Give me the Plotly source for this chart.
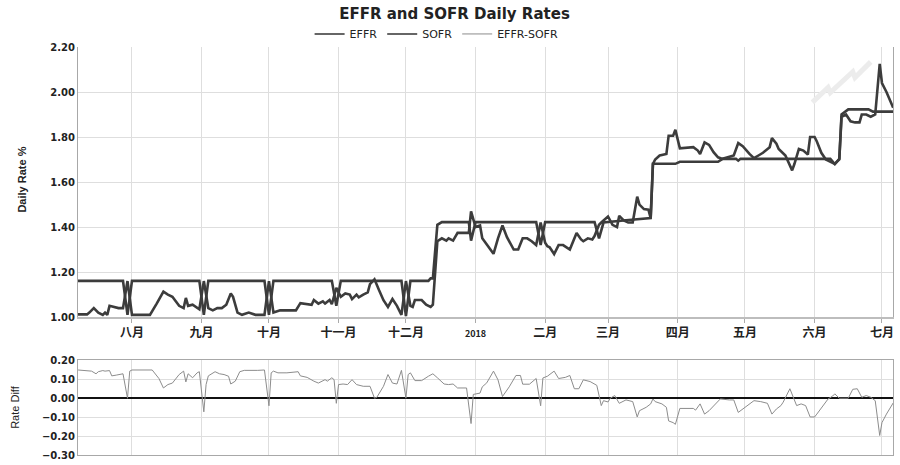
import plotly.graph_objects as go
from plotly.subplots import make_subplots

# EFFR (flat policy-like line)
effr_dates = [
    "2017-07-07", "2017-07-28", "2017-07-30", "2017-08-01", "2017-08-31", "2017-09-02",
    "2017-09-04", "2017-09-29", "2017-10-01", "2017-10-03", "2017-10-29", "2017-10-31",
    "2017-11-02", "2017-11-29", "2017-12-01", "2017-12-03", "2017-12-11", "2017-12-12",
    "2017-12-13", "2017-12-15", "2017-12-17", "2017-12-29", "2017-12-30", "2018-01-01",
    "2018-01-28", "2018-01-30", "2018-02-01", "2018-02-23", "2018-02-25", "2018-02-27",
    "2018-03-09", "2018-03-19", "2018-03-20", "2018-03-21", "2018-03-31", "2018-04-02",
    "2018-04-19", "2018-04-21", "2018-04-27", "2018-04-28", "2018-04-29", "2018-06-08",
    "2018-06-10", "2018-06-12", "2018-06-13", "2018-06-16", "2018-06-25", "2018-06-27",
    "2018-07-06",
]
effr_vals = [
    1.161, 1.161, 1.01, 1.161, 1.161, 1.01,
    1.161, 1.161, 1.01, 1.161, 1.161, 1.05,
    1.161, 1.161, 1.005, 1.161, 1.161, 1.172,
    1.172, 1.41, 1.422, 1.422, 1.34, 1.422,
    1.422, 1.32, 1.422, 1.422, 1.35, 1.42,
    1.43, 1.44, 1.44, 1.681, 1.681, 1.69,
    1.69, 1.703, 1.703, 1.695, 1.703, 1.703,
    1.68, 1.703, 1.90, 1.923, 1.923, 1.913,
    1.913,
]

# SOFR
sofr_dates = [
    "2017-07-07", "2017-07-12", "2017-07-13", "2017-07-15", "2017-07-17", "2017-07-19",
    "2017-07-20", "2017-07-21", "2017-07-22", "2017-07-24", "2017-07-26", "2017-07-28",
    "2017-07-30", "2017-08-01", "2017-08-09", "2017-08-12", "2017-08-15", "2017-08-17",
    "2017-08-19", "2017-08-22", "2017-08-24", "2017-08-25", "2017-08-26", "2017-08-28",
    "2017-08-30", "2017-08-31", "2017-09-02", "2017-09-04", "2017-09-06", "2017-09-08",
    "2017-09-10", "2017-09-12", "2017-09-14", "2017-09-15", "2017-09-17", "2017-09-19",
    "2017-09-22", "2017-09-25", "2017-09-29", "2017-10-01", "2017-10-03", "2017-10-06",
    "2017-10-13", "2017-10-15", "2017-10-20", "2017-10-21", "2017-10-23", "2017-10-25",
    "2017-10-26", "2017-10-28", "2017-10-29", "2017-10-31", "2017-11-02", "2017-11-04",
    "2017-11-06", "2017-11-07", "2017-11-09", "2017-11-10", "2017-11-12", "2017-11-14",
    "2017-11-15", "2017-11-17", "2017-11-19", "2017-11-21", "2017-11-23", "2017-11-25",
    "2017-11-27", "2017-11-29", "2017-12-01", "2017-12-03", "2017-12-04", "2017-12-05",
    "2017-12-08", "2017-12-10", "2017-12-12", "2017-12-13", "2017-12-15", "2017-12-17",
    "2017-12-19", "2017-12-20", "2017-12-22", "2017-12-24", "2017-12-29", "2017-12-30",
    "2018-01-01", "2018-01-03", "2018-01-04", "2018-01-06", "2018-01-09", "2018-01-11",
    "2018-01-13", "2018-01-15", "2018-01-18", "2018-01-20", "2018-01-22", "2018-01-24",
    "2018-01-26", "2018-01-28", "2018-01-30", "2018-02-01", "2018-02-02", "2018-02-03",
    "2018-02-05", "2018-02-07", "2018-02-09", "2018-02-12", "2018-02-15", "2018-02-17",
    "2018-02-18", "2018-02-20", "2018-02-22", "2018-02-23", "2018-02-25", "2018-02-26",
    "2018-03-01", "2018-03-03", "2018-03-05", "2018-03-06", "2018-03-08", "2018-03-10",
    "2018-03-12", "2018-03-14", "2018-03-15", "2018-03-17", "2018-03-19", "2018-03-20",
    "2018-03-21", "2018-03-22", "2018-03-24", "2018-03-27", "2018-03-28", "2018-03-30",
    "2018-03-31", "2018-04-02", "2018-04-08", "2018-04-10", "2018-04-11", "2018-04-13",
    "2018-04-15", "2018-04-17", "2018-04-19", "2018-04-21", "2018-04-24", "2018-04-26",
    "2018-04-28", "2018-04-30", "2018-05-03", "2018-05-05", "2018-05-07", "2018-05-09",
    "2018-05-12", "2018-05-13", "2018-05-15", "2018-05-16", "2018-05-19", "2018-05-22",
    "2018-05-23", "2018-05-25", "2018-05-27", "2018-05-29", "2018-05-30", "2018-06-01",
    "2018-06-02", "2018-06-04", "2018-06-06", "2018-06-08", "2018-06-10", "2018-06-12",
    "2018-06-13", "2018-06-15", "2018-06-17", "2018-06-19", "2018-06-21", "2018-06-22",
    "2018-06-24", "2018-06-26", "2018-06-28", "2018-06-30", "2018-07-01", "2018-07-03",
    "2018-07-06",
]
sofr_vals = [
    1.012, 1.012, 1.02, 1.04, 1.02, 1.01,
    1.02, 1.01, 1.05, 1.045, 1.04, 1.04,
    1.16, 1.01, 1.01, 1.06, 1.113, 1.10,
    1.09, 1.05, 1.04, 1.085, 1.05, 1.055,
    1.04, 1.035, 1.16, 1.04, 1.03, 1.04,
    1.04, 1.055, 1.105, 1.09, 1.02, 1.01,
    1.02, 1.01, 1.01, 1.16, 1.02, 1.03,
    1.03, 1.062, 1.055, 1.076, 1.06, 1.07,
    1.06, 1.076, 1.057, 1.13, 1.09, 1.105,
    1.10, 1.08, 1.10, 1.088, 1.10, 1.11,
    1.146, 1.168, 1.12, 1.075, 1.045, 1.08,
    1.05, 1.01, 1.16, 1.05, 1.045, 1.076,
    1.076, 1.055, 1.045, 1.055, 1.337, 1.35,
    1.34, 1.35, 1.34, 1.374, 1.374, 1.47,
    1.40, 1.407, 1.35, 1.32, 1.281, 1.35,
    1.407, 1.355, 1.30, 1.30, 1.35, 1.35,
    1.337, 1.32, 1.42, 1.33, 1.315, 1.31,
    1.28, 1.32, 1.32, 1.30, 1.374, 1.345,
    1.337, 1.35, 1.345, 1.36, 1.41, 1.42,
    1.447, 1.41, 1.40, 1.45, 1.43, 1.42,
    1.42, 1.535, 1.50, 1.48, 1.477, 1.44,
    1.68, 1.70, 1.718, 1.725, 1.806, 1.806,
    1.832, 1.75, 1.755, 1.74, 1.725, 1.776,
    1.765, 1.733, 1.71, 1.703, 1.71, 1.718,
    1.773, 1.759, 1.725, 1.706, 1.718, 1.73,
    1.755, 1.795, 1.77, 1.747, 1.718, 1.652,
    1.68, 1.747, 1.74, 1.722, 1.80, 1.80,
    1.78, 1.73, 1.70, 1.69, 1.68, 1.70,
    1.89, 1.90, 1.87, 1.865, 1.865, 1.90,
    1.90, 1.89, 1.90, 2.125, 2.04, 2.00,
    1.93,
]

# EFFR-SOFR spread (bottom panel)
diff_dates = [
    "2017-07-08", "2017-07-11", "2017-07-14", "2017-07-16", "2017-07-17", "2017-07-19",
    "2017-07-20", "2017-07-22", "2017-07-23", "2017-07-25", "2017-07-27", "2017-07-28",
    "2017-07-30", "2017-07-31", "2017-08-01", "2017-08-10", "2017-08-13", "2017-08-15",
    "2017-08-17", "2017-08-19", "2017-08-22", "2017-08-24", "2017-08-25", "2017-08-26",
    "2017-08-28", "2017-08-30", "2017-08-31", "2017-09-02", "2017-09-03", "2017-09-04",
    "2017-09-07", "2017-09-09", "2017-09-11", "2017-09-13", "2017-09-14", "2017-09-16",
    "2017-09-18", "2017-09-20", "2017-09-26", "2017-09-29", "2017-10-01", "2017-10-02",
    "2017-10-03", "2017-10-05", "2017-10-09", "2017-10-14", "2017-10-15", "2017-10-18",
    "2017-10-21", "2017-10-23", "2017-10-26", "2017-10-27", "2017-10-29", "2017-10-30",
    "2017-10-31", "2017-11-01", "2017-11-03", "2017-11-05", "2017-11-07", "2017-11-09",
    "2017-11-12", "2017-11-15", "2017-11-17", "2017-11-18", "2017-11-21", "2017-11-23",
    "2017-11-25", "2017-11-27", "2017-11-29", "2017-12-01", "2017-12-02", "2017-12-03",
    "2017-12-05", "2017-12-08", "2017-12-11", "2017-12-13", "2017-12-15", "2017-12-18",
    "2017-12-20", "2017-12-22", "2017-12-24", "2017-12-28", "2017-12-30", "2017-12-31",
    "2018-01-03", "2018-01-04", "2018-01-06", "2018-01-09", "2018-01-11", "2018-01-13",
    "2018-01-16", "2018-01-19", "2018-01-21", "2018-01-22", "2018-01-25", "2018-01-27",
    "2018-01-28", "2018-01-30", "2018-01-31", "2018-02-02", "2018-02-05", "2018-02-07",
    "2018-02-10", "2018-02-12", "2018-02-14", "2018-02-16", "2018-02-18", "2018-02-21",
    "2018-02-23", "2018-02-24", "2018-02-26", "2018-02-27", "2018-03-01", "2018-03-02",
    "2018-03-04", "2018-03-06", "2018-03-09", "2018-03-12", "2018-03-14", "2018-03-15",
    "2018-03-18", "2018-03-20", "2018-03-21", "2018-03-22", "2018-03-25", "2018-03-27",
    "2018-03-28", "2018-03-30", "2018-03-31", "2018-04-02", "2018-04-08", "2018-04-09",
    "2018-04-11", "2018-04-13", "2018-04-15", "2018-04-18", "2018-04-20", "2018-04-24",
    "2018-04-26", "2018-04-28", "2018-04-30", "2018-05-03", "2018-05-05", "2018-05-08",
    "2018-05-11", "2018-05-13", "2018-05-15", "2018-05-17", "2018-05-18", "2018-05-21",
    "2018-05-22", "2018-05-24", "2018-05-26", "2018-05-28", "2018-05-30", "2018-06-01",
    "2018-06-02", "2018-06-05", "2018-06-07", "2018-06-09", "2018-06-10", "2018-06-12",
    "2018-06-16", "2018-06-18", "2018-06-20", "2018-06-22", "2018-06-24", "2018-06-26",
    "2018-06-28", "2018-06-30", "2018-07-01", "2018-07-03", "2018-07-06",
]
diff_vals = [
    0.149, 0.147, 0.143, 0.129, 0.14, 0.146,
    0.143, 0.146, 0.118, 0.122, 0.125, 0.129,
    0.0, 0.143, 0.149, 0.149, 0.104, 0.054,
    0.072, 0.08, 0.125, 0.143, 0.086, 0.129,
    0.108, 0.134, 0.14, -0.072, 0.072, 0.118,
    0.14, 0.129, 0.125, 0.116, 0.075, 0.09,
    0.14, 0.147, 0.147, 0.149, -0.04, 0.134,
    0.143, 0.134, 0.134, 0.14, 0.118, 0.11,
    0.09, 0.08, 0.098, 0.09, 0.108, 0.098,
    -0.027, 0.072, 0.075, 0.072, 0.098, 0.072,
    0.063, 0.063, 0.0, 0.004, 0.063, 0.125,
    0.08, 0.075, 0.147, 0.0, 0.125, 0.134,
    0.093, 0.093, 0.116, 0.129, 0.108, 0.075,
    0.072, 0.075, 0.054, 0.054, -0.134, 0.02,
    0.027, 0.06, 0.081, 0.143, 0.097, 0.009,
    0.06, 0.12, 0.12, 0.074, 0.074, 0.097,
    0.104, -0.04, 0.107, 0.116, 0.143, 0.104,
    0.11, 0.12, 0.05, 0.05, 0.097, 0.088,
    0.074, 0.068, -0.039, -0.013, -0.02, 0.0,
    0.014, -0.027, -0.009, -0.018, -0.099, -0.066,
    -0.048, -0.03, -0.004, -0.018, -0.03, -0.048,
    -0.12, -0.129, -0.138, -0.054, -0.054, -0.063,
    -0.03, -0.084, -0.066, -0.03, -0.004, -0.009,
    -0.009, -0.075, -0.057, -0.03, -0.013, -0.018,
    -0.027, -0.084, -0.057, -0.039, -0.021, 0.05,
    0.023, -0.039, -0.03, -0.039, -0.099, -0.099,
    -0.084, -0.039, -0.004, 0.011, 0.023, 0.0,
    0.0, 0.047, 0.05, 0.005, 0.014, 0.005,
    -0.013, -0.197, -0.129, -0.084, -0.025,
]

# faint grey streak visible in the upper panel
ghost_dates = ["2018-05-31", "2018-06-07", "2018-06-08", "2018-06-18", "2018-06-19", "2018-06-26"]
ghost_vals = [1.954, 2.02, 1.998, 2.09, 2.064, 2.134]

month_ticks = ["2017-08-01", "2017-09-01", "2017-10-01", "2017-11-01", "2017-12-01", "2018-01-01",
               "2018-02-01", "2018-03-01", "2018-04-01", "2018-05-01", "2018-06-01", "2018-07-01"]
month_labels = ["八月", "九月", "十月", "十一月", "十二月", "<span style='font-size:9px'>2018</span>",
                "二月", "三月", "四月", "五月", "六月", "七月"]

top_ticks = [1.0, 1.2, 1.4, 1.6, 1.8, 2.0, 2.2]
bottom_ticks = [-0.3, -0.2, -0.1, 0.0, 0.1, 0.2]

x_range = ["2017-07-07 23:00", "2018-07-05 22:00"]

line_dark = "#3c3c3c"
grid = "#dedede"
tick_font = dict(family="DejaVu Sans", size=10, color="#222", weight="bold")
label_font = "Liberation Sans, Arial, sans-serif"

fig = make_subplots(rows=2, cols=1, shared_xaxes=False, vertical_spacing=0.0,
                    row_heights=[0.67, 0.33])

fig.add_trace(go.Scatter(x=ghost_dates, y=ghost_vals, mode="lines", showlegend=False,
                         line=dict(color="#ececec", width=5), hoverinfo="skip"), row=1, col=1)
fig.add_trace(go.Scatter(x=effr_dates, y=effr_vals, mode="lines", name="EFFR", legendgroup="effr",
                         showlegend=False, line=dict(color=line_dark, width=2.6)), row=1, col=1)
fig.add_trace(go.Scatter(x=sofr_dates, y=sofr_vals, mode="lines", name="SOFR", legendgroup="sofr",
                         showlegend=False, line=dict(color=line_dark, width=2.6)), row=1, col=1)
fig.add_trace(go.Scatter(x=diff_dates, y=diff_vals, mode="lines", name="EFFR-SOFR",
                         legendgroup="diff", showlegend=False,
                         line=dict(color="#8c8c8c", width=1)), row=2, col=1)

# legend entries use thin sample lines like the original
legend_items = [("EFFR", "effr", "#333333", 1.4), ("SOFR", "sofr", "#333333", 1.4),
                ("EFFR-SOFR", "diff", "#8c8c8c", 1)]
for name, group, color, width in legend_items:
    fig.add_trace(go.Scatter(x=[None], y=[None], mode="lines", name=name, legendgroup=group,
                             line=dict(color=color, width=width)), row=1, col=1)

# layout: plot area 78..893 x, 47..461 y
fig.update_layout(
    width=900, height=465,
    margin=dict(l=78, r=7, t=47, b=4),
    paper_bgcolor="white", plot_bgcolor="white",
    title=dict(text="EFFR and SOFR Daily Rates", x=0.505, xanchor="center", y=0.97, yanchor="middle",
               font=dict(family="DejaVu Sans", size=15, color="#222", weight="bold")),
    legend=dict(orientation="h", x=0.44, xanchor="center", y=1.032, yanchor="middle",
                font=dict(family="DejaVu Sans", size=11, color="#222"),
                itemwidth=30, tracegroupgap=0, bgcolor="rgba(0,0,0,0)"),
    showlegend=True,
)

fig.update_xaxes(type="date", range=x_range, tickvals=month_ticks, ticktext=month_labels,
                 showgrid=True, gridcolor=grid, gridwidth=1, zeroline=False)
fig.update_layout(
    xaxis=dict(domain=[0, 1], anchor="y", showticklabels=True, ticks="outside", ticklen=4,
               tickcolor="#aaa", showline=True, linecolor="#bdbdbd", linewidth=2,
               tickfont=dict(family="Noto Sans CJK SC", size=12, color="#222", weight="bold")),
    xaxis2=dict(domain=[0, 1], anchor="y2", showticklabels=False, ticks="",
                showline=True, linecolor="#a8a8a8", linewidth=1, mirror=True),
    yaxis=dict(domain=[0.338, 1.0], range=[1.0, 2.2], tickvals=top_ticks, tickformat=".2f",
               showgrid=True, gridcolor=grid, zeroline=False, showline=True, linecolor="#a8a8a8",
               linewidth=1, mirror=True, ticks="", tickfont=tick_font),
    yaxis2=dict(domain=[0.0, 0.232], range=[-0.3, 0.2], tickvals=bottom_ticks, tickformat=".2f",
                showgrid=True, gridcolor=grid, zeroline=True, zerolinecolor="#111", zerolinewidth=2,
                showline=True, linecolor="#a8a8a8", linewidth=1, mirror=True, ticks="",
                tickfont=tick_font),
)

fig.add_annotation(text="Daily Rate %", xref="paper", yref="paper", x=-0.0687, y=0.675,
                   xanchor="center", yanchor="middle", textangle=-90, showarrow=False,
                   font=dict(family=label_font, size=11, color="#222", weight="bold"))
fig.add_annotation(text="Rate Diff", xref="paper", yref="paper", x=-0.0773, y=0.118,
                   xanchor="center", yanchor="middle", textangle=-90, showarrow=False,
                   font=dict(family=label_font, size=11, color="#222"))

# the page's default body margin would shift the fixed-size figure by 8px
fig.write_html("out.html", config={"displayModeBar": False},
               post_script="document.body.style.margin='0';")
